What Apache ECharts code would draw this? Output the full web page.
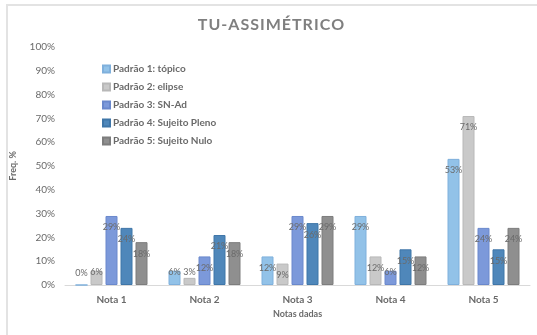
<!DOCTYPE html>
<html>
<head>
<meta charset="utf-8">
<script src="https://cdn.jsdelivr.net/npm/echarts@6/dist/echarts.min.js"></script>
<style>
  html, body { margin: 0; padding: 0; background: #fff; }
  #chart { width: 537px; height: 335px; }
</style>
</head>
<body>
<div id="chart"></div>
<script>
// Frequency (%) of each grade per pattern
const categories = ['Nota 1', 'Nota 2', 'Nota 3', 'Nota 4', 'Nota 5'];
const seriesNames = [
  'Padrão 1: tópico',
  'Padrão 2: elipse',
  'Padrão 3: SN-Ad',
  'Padrão 4: Sujeito Pleno',
  'Padrão 5: Sujeito Nulo'
];
const padrao1 = [0, 6, 12, 29, 53];
const padrao2 = [6, 3, 9, 12, 71];
const padrao3 = [29, 12, 29, 6, 24];
const padrao4 = [24, 21, 26, 15, 15];
const padrao5 = [18, 18, 29, 12, 24];
const yTicks = [0, 10, 20, 30, 40, 50, 60, 70, 80, 90, 100];

const values = [padrao1, padrao2, padrao3, padrao4, padrao5];
const colors = ['#92c2e8', '#c9c9c9', '#7c99da', '#4f87ba', '#8f8f8f'];
const borders = ['#7fb0dc', '#b8b8b8', '#6a88cc', '#3f76a8', '#7d7d7d'];

const font = 'Lato, "Open Sans", sans-serif';

const chart = echarts.init(document.getElementById('chart'), null, { renderer: 'canvas' });

const series = values.map((vals, i) => ({
  name: seriesNames[i],
  type: 'bar',
  barWidth: 12,
  barGap: '25%',
  itemStyle: { color: colors[i], borderColor: borders[i], borderWidth: 1 },
  label: {
    show: true,
    position: 'insideTop',
    distance: 7,
    formatter: '{c}%',
    color: '#6a6a6a',
    fontSize: 9,
    fontFamily: font
  },
  data: vals.map(v => v < 8
    ? { value: v, label: { position: 'insideBottom', distance: 8 } }
    : v)
}));

chart.setOption({
  animation: false,
  backgroundColor: '#fff',
  textStyle: { fontFamily: font },
  title: {
    text: 'T U - A S S I M É T R I C O'.replace(/ /g, '\u200A'),
    left: 266,
    top: 12,
    textAlign: 'center',
    textStyle: {
      color: '#7f7f7f',
      fontSize: 16,
      fontWeight: 'bold',
      fontFamily: font
    }
  },
  graphic: [{
    type: 'rect',
    shape: { x: 7, y: 5, width: 540, height: 340 },
    style: { fill: 'none', stroke: '#e3e3e3', lineWidth: 2 },
    silent: true
  }],
  legend: {
    orient: 'vertical',
    left: 97,
    top: 59,
    itemWidth: 7,
    itemHeight: 7,
    itemGap: 8,
    icon: 'rect',
    textStyle: { color: '#6a6a6a', fontSize: 10, fontWeight: 'bold', fontFamily: font, padding: [0, 0, 0, -2] },
    data: seriesNames
  },
  grid: { left: 65, right: 7, top: 47, bottom: 50 },
  xAxis: {
    type: 'category',
    data: categories,
    name: 'Notas dadas',
    nameLocation: 'middle',
    nameGap: 25,
    nameTextStyle: { color: '#6a6a6a', fontSize: 9, fontWeight: 'bold', fontFamily: font },
    axisLine: { lineStyle: { color: '#d9d9d9', width: 1 } },
    axisTick: { show: false },
    axisLabel: { color: '#6a6a6a', fontSize: 10, fontWeight: 'bold', margin: 10, fontFamily: font }
  },
  yAxis: {
    type: 'value',
    min: yTicks[0],
    max: yTicks[yTicks.length - 1],
    interval: yTicks[1] - yTicks[0],
    name: 'Freq. %',
    nameLocation: 'middle',
    nameGap: 47,
    nameRotate: 90,
    nameTextStyle: { color: '#6a6a6a', fontSize: 9, fontWeight: 'bold', fontFamily: font },
    axisLine: { show: false },
    axisTick: { show: false },
    splitLine: { show: false },
    axisLabel: { color: '#6a6a6a', fontSize: 10, margin: 10, formatter: '{value}%', fontFamily: font }
  },
  series: series
});
</script>
</body>
</html>
